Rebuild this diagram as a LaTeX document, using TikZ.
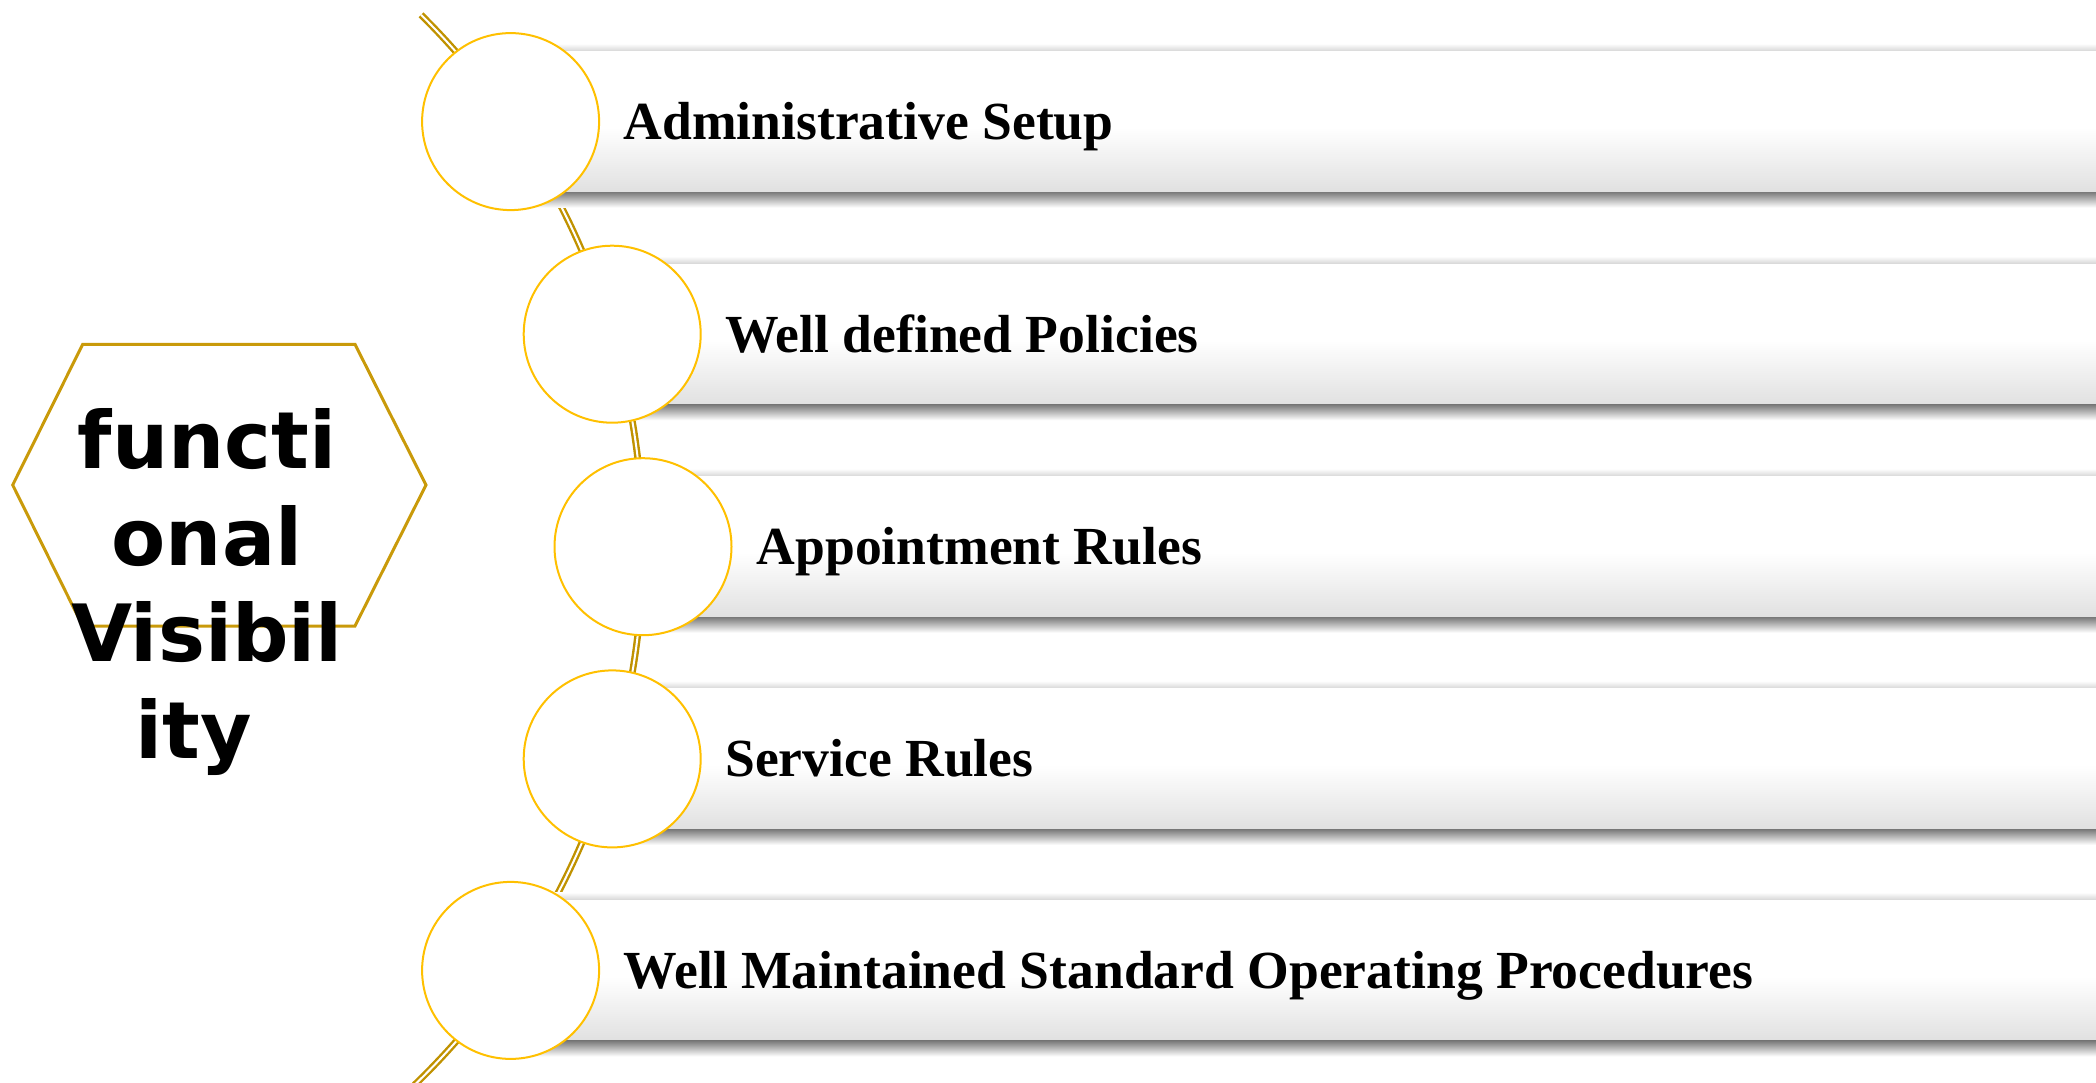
\documentclass[tikz,border=0pt]{standalone}
\usepackage{fontspec}
\setmainfont{Liberation Serif}
\newfontfamily\hexfont{DejaVu Sans}
\definecolor{arcgold}{HTML}{C09200}
\definecolor{cgold}{HTML}{FFC000}
\definecolor{hexgold}{HTML}{C99A0A}
\tikzset{
  circ/.style={circle, draw=cgold, line width=2pt, fill=white, minimum size=177pt, inner sep=0pt},
  lbl/.style={font=\fontsize{53.6}{60}\selectfont\bfseries, inner sep=0pt, anchor=base west},
  hexlbl/.style={font=\hexfont\bfseries\fontsize{79}{96.7}\selectfont, align=center, inner sep=0pt},
  arcline/.style={draw=arcgold, line width=2.4pt, double=white, double distance=2pt},
  hexline/.style={draw=hexgold, line width=3pt, line join=miter}
}
\begin{document}
\begin{tikzpicture}[x=1pt,y=-1pt]
\useasboundingbox (0,0) rectangle (2096,1083);
\clip (0,0) rectangle (2096,1083);
% golden arc
\coordinate (arcC) at (-105.3,546.7);
\draw[arcline] (arcC) ++(45.3:748.3pt) arc[start angle=45.3, end angle=-46, radius=748.3pt];
% bars
\foreach \cx/\cy in {510.6/121.6, 612.2/334.2, 643/546.7, 612.2/758.9, 510.6/970.4}{
  \shade[top color=white, bottom color=black!16] (\cx,\cy-78) rectangle (2096,\cy-70.5);
  \fill[white] (\cx,\cy-70.5) rectangle (2096,\cy+6);
  \shade[top color=white, bottom color=black!12] (\cx,\cy+6) rectangle (2096,\cy+70.5);
  \shade[top color=black!52, bottom color=white] (\cx,\cy+70.5) rectangle (2096,\cy+86);
}
% circles
\node[circ] (c1) at (510.6,121.6) {};
\node[circ] (c2) at (612.2,334.2) {};
\node[circ] (c3) at (643,546.7) {};
\node[circ] (c4) at (612.2,758.9) {};
\node[circ] (c5) at (510.6,970.4) {};
% labels
\node[lbl] (t1) at (623.5,139.6) {Administrative Setup};
\node[lbl] (t2) at (725,352.2) {Well defined Policies};
\node[lbl] (t3) at (756.5,564.7) {Appointment Rules};
\node[lbl] (t4) at (725,776.9) {Service Rules};
\node[lbl] (t5) at (623.5,988.4) {Well Maintained Standard Operating Procedures};
% hexagon
\draw[hexline] (82.7,344.3) -- (355,344.3) -- (426,485) -- (355,626) -- (82.7,626) -- (12.7,485) -- cycle;
\node[hexlbl] (hx) at (207,592) {functi\\onal\\Visibil\\ity\kern26pt};
\end{tikzpicture}
\end{document}
